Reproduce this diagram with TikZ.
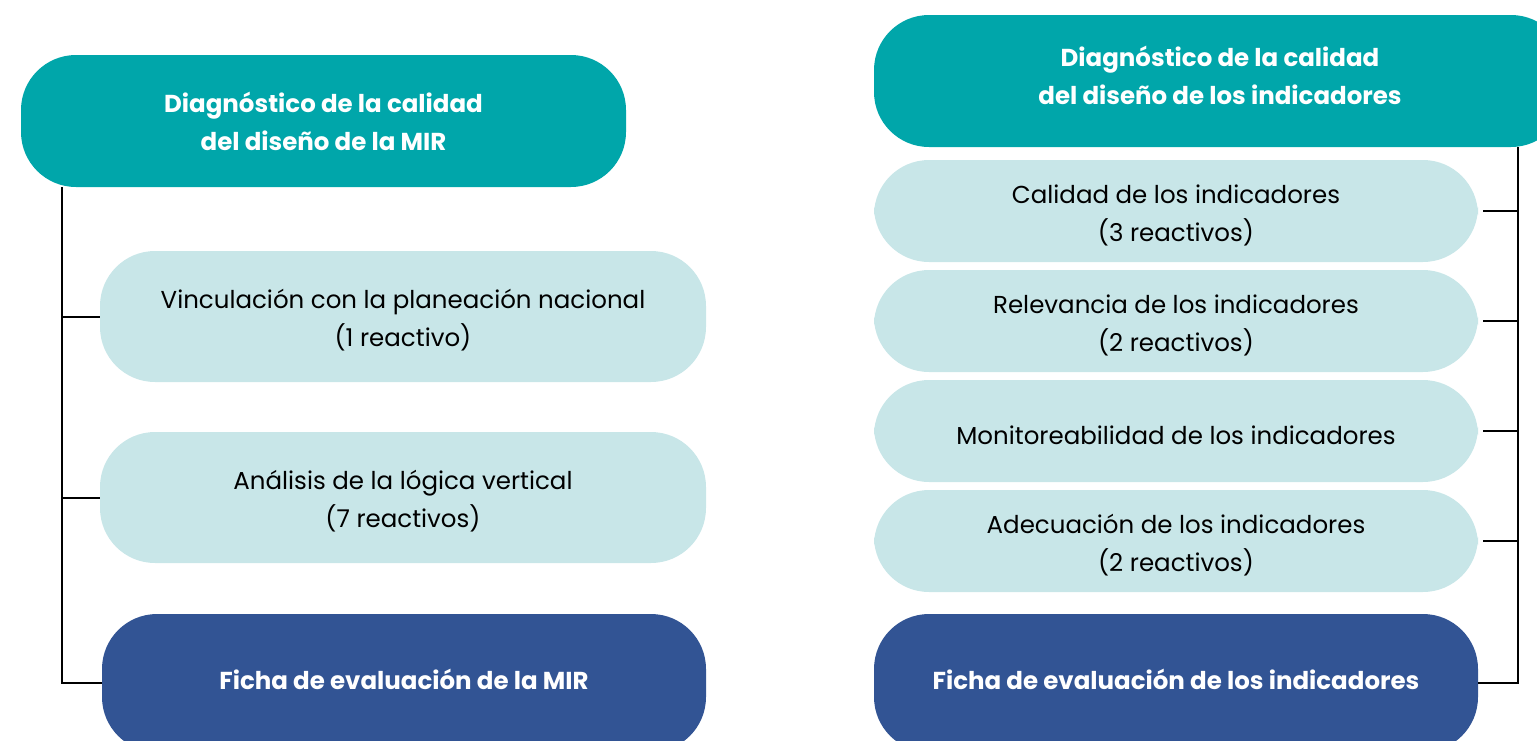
\documentclass[tikz,border=0pt]{standalone}
\usepackage{fontspec}
\setmainfont{Poppins}
\definecolor{teal1}{RGB}{0,166,170}
\definecolor{light1}{RGB}{200,230,232}
\definecolor{navy1}{RGB}{50,84,148}
\begin{document}
\begin{tikzpicture}[x=1pt,y=-1pt,
  box/.style={rectangle,rounded corners=55pt,inner sep=0pt},
  lbl/.style={align=center,font=\fontsize{24.5}{38}\selectfont},
  headbox/.style={box,fill=teal1},
  subbox/.style={box,fill=light1},
  fichabox/.style={box,fill=navy1},
  htxt/.style={lbl,text=white,font=\fontsize{24.5}{38}\selectfont\bfseries},
  stxt/.style={lbl,text=black,yshift=-4pt},
  ftxt/.style={htxt,yshift=4pt},
  conn/.style={line width=2pt,draw=black}]
\useasboundingbox (0,0) rectangle (1537,740);
\clip (0,0) rectangle (1537,740);
% left column
\node[headbox,minimum width=605pt,minimum height=132pt,
  label={[htxt]center:Diagnóstico de la calidad\\del diseño de la MIR}] (topL) at (323.5,121) {};
\node[subbox,minimum width=606pt,minimum height=131pt,
  label={[stxt]center:Vinculación con la planeación nacional\\(1 reactivo)}] (l1) at (403,316.5) {};
\node[subbox,minimum width=606pt,minimum height=131pt,
  label={[stxt]center:Análisis de la lógica vertical\\(7 reactivos)}] (l2) at (403,497.5) {};
\node[fichabox,minimum width=604pt,minimum height=138pt,
  label={[ftxt]center:Ficha de evaluación de la MIR}] (fichaL) at (404,683) {};
% right column
\node[headbox,minimum width=692pt,minimum height=132pt,
  label={[htxt,yshift=6pt]center:Diagnóstico de la calidad\\del diseño de los indicadores}] (topR) at (1220,81) {};
\node[subbox,minimum width=604pt,minimum height=102pt,
  label={[stxt]center:Calidad de los indicadores\\(3 reactivos)}] (r1) at (1176,211) {};
\node[subbox,minimum width=604pt,minimum height=102pt,
  label={[stxt]center:Relevancia de los indicadores\\(2 reactivos)}] (r2) at (1176,321) {};
\node[subbox,minimum width=604pt,minimum height=102pt,
  label={[stxt]center:Monitoreabilidad de los indicadores}] (r3) at (1176,431) {};
\node[subbox,minimum width=604pt,minimum height=102pt,
  label={[stxt]center:Adecuación de los indicadores\\(2 reactivos)}] (r4) at (1176,541) {};
\node[fichabox,minimum width=604pt,minimum height=138pt,
  label={[ftxt]center:Ficha de evaluación de los indicadores}] (fichaR) at (1176,683) {};
% buses
\coordinate (lbus) at (62,0);
\coordinate (rbus) at (1518,0);
\draw[conn] (topL.south -| lbus) |- (fichaL.west);
\draw[conn] (lbus |- l1.west) -- (l1.west);
\draw[conn] (lbus |- l2.west) -- (l2.west);
\draw[conn] (topR.south -| rbus) |- (fichaR.east);
\draw[conn] (rbus |- r1.east) -- ([xshift=5pt]r1.east);
\draw[conn] (rbus |- r2.east) -- ([xshift=5pt]r2.east);
\draw[conn] (rbus |- r3.east) -- ([xshift=5pt]r3.east);
\draw[conn] (rbus |- r4.east) -- ([xshift=5pt]r4.east);
\end{tikzpicture}
\end{document}
